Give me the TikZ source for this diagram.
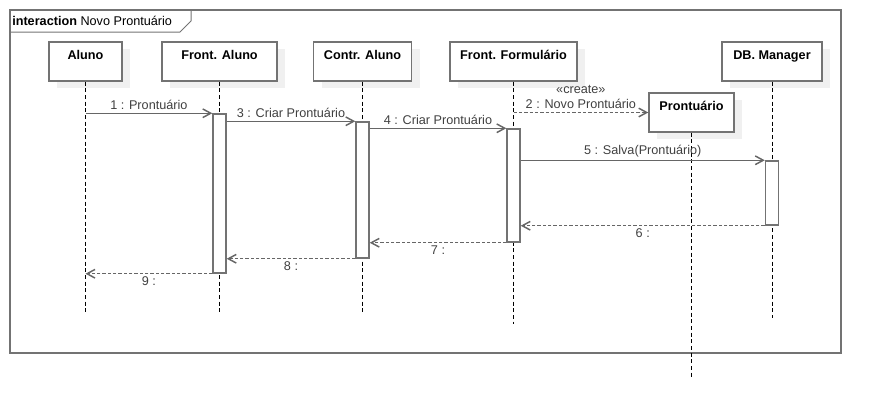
\documentclass[tikz,border=0pt]{standalone}
\usepackage{fontspec}
\setmainfont{Liberation Sans}
\usetikzlibrary{arrows.meta, shadows}

\begin{document}
\begin{tikzpicture}[x=0.75pt, y=-0.75pt,
    obj/.style={draw=black!55, line width=1.1pt, fill=white, rectangle, minimum height=29.25pt,
      inner sep=3pt, text height=10pt, text depth=13.25pt, font=\fontsize{9.5}{11}\selectfont\bfseries,
      drop shadow={shadow xshift=6pt, shadow yshift=-5pt, fill=black!6, opacity=1}},
    act/.style={draw=black!55, line width=1.1pt, fill=white, rectangle, minimum width=9.75pt, inner sep=0pt},
    life/.style={black, line width=0.6pt, dash pattern=on 3pt off 2pt},
    msg/.style={draw=black!60, line width=1.1pt, -{Straight Barb[length=6pt, width=6.5pt]}},
    ret/.style={msg, dash pattern=on 2.5pt off 1.5pt},
    lbl/.style={font=\fontsize{9.5}{11.25}\selectfont, text=black!75, inner sep=2pt, align=center}]
  \useasboundingbox (0,0) rectangle (882,418);

  % frame
  \draw[black!55, line width=1.1pt] (10,10) rectangle (841,353);
  \draw[black!55, line width=0.75pt] (10,32) -- (180,32) -- (191,21) -- (191,10);
  \node[anchor=west, inner sep=0pt, font=\fontsize{9.5}{11}\selectfont] (title) at (12,20.5)
    {\textbf{interaction} Novo Prontuário};

  % objects
  \node[obj, minimum width=54.75pt] (aluno) at (85.5,61.5) {Aluno};
  \node[obj, minimum width=86.25pt] (frontaluno) at (219.5,61.5) {Front. Aluno};
  \node[obj, minimum width=73.5pt] (contraluno) at (362.5,61.5) {Contr. Aluno};
  \node[obj, minimum width=95.25pt] (frontform) at (513.5,61.5) {Front. Formulário};
  \node[obj, minimum width=75pt] (dbmanager) at (772,61.5) {DB. Manager};
  \node[obj, minimum width=63.75pt] (prontuario) at (691.5,112.5) {Prontuário};

  % lifelines
  \coordinate (alunoend) at (85.5,312);
  \coordinate (frontalunoend) at (219.5,313);
  \coordinate (contralunoend) at (362.5,313);
  \coordinate (frontformend) at (513.5,324);
  \coordinate (dbmanagerend) at (772,318);
  \coordinate (prontuarioend) at (691.5,377);
  \draw[life] (aluno) -- (alunoend);
  \draw[life] (frontaluno) -- (frontalunoend);
  \draw[life] (contraluno) -- (contralunoend);
  \draw[life] (frontform) -- (frontformend);
  \draw[life] (dbmanager) -- (dbmanagerend);
  \draw[life] (prontuario) -- (prontuarioend);

  % activations
  \node[act, minimum height=119.25pt] (faact) at (219.5,193.5) {};
  \node[act, minimum height=102pt] (caact) at (362.5,190) {};
  \node[act, minimum height=84.75pt] (ffact) at (513.5,185.5) {};
  \node[act, minimum height=48pt] (dbact) at (772,193) {};

  % messages
  \draw[msg] (aluno |- faact.north) -- (faact.north west) node[lbl, midway, above] {1 : Prontuário};
  \draw[ret] (frontform |- prontuario.west) -- (prontuario.west)
    node[lbl, midway, above] {«create»\\2 : Novo Prontuário};
  \draw[msg] (faact.east |- caact.north) -- (caact.north west) node[lbl, midway, above] {3 : Criar Prontuário};
  \draw[msg] (caact.east |- ffact.north) -- (ffact.north west) node[lbl, midway, above] {4 : Criar Prontuário};
  \draw[msg] (ffact.east |- dbact.north) -- (dbact.north west) node[lbl, midway, above] {5 : Salva(Prontuário)};
  \draw[ret] (dbact.south west) -- (ffact.east |- dbact.south) node[lbl, midway, below] {6 :};
  \draw[ret] (ffact.south west) -- (caact.east |- ffact.south) node[lbl, midway, below] {7 :};
  \draw[ret] (caact.south west) -- (faact.east |- caact.south) node[lbl, midway, below] {8 :};
  \draw[ret] (faact.south west) -- (aluno |- faact.south) node[lbl, midway, below] {9 :};
\end{tikzpicture}
\end{document}
